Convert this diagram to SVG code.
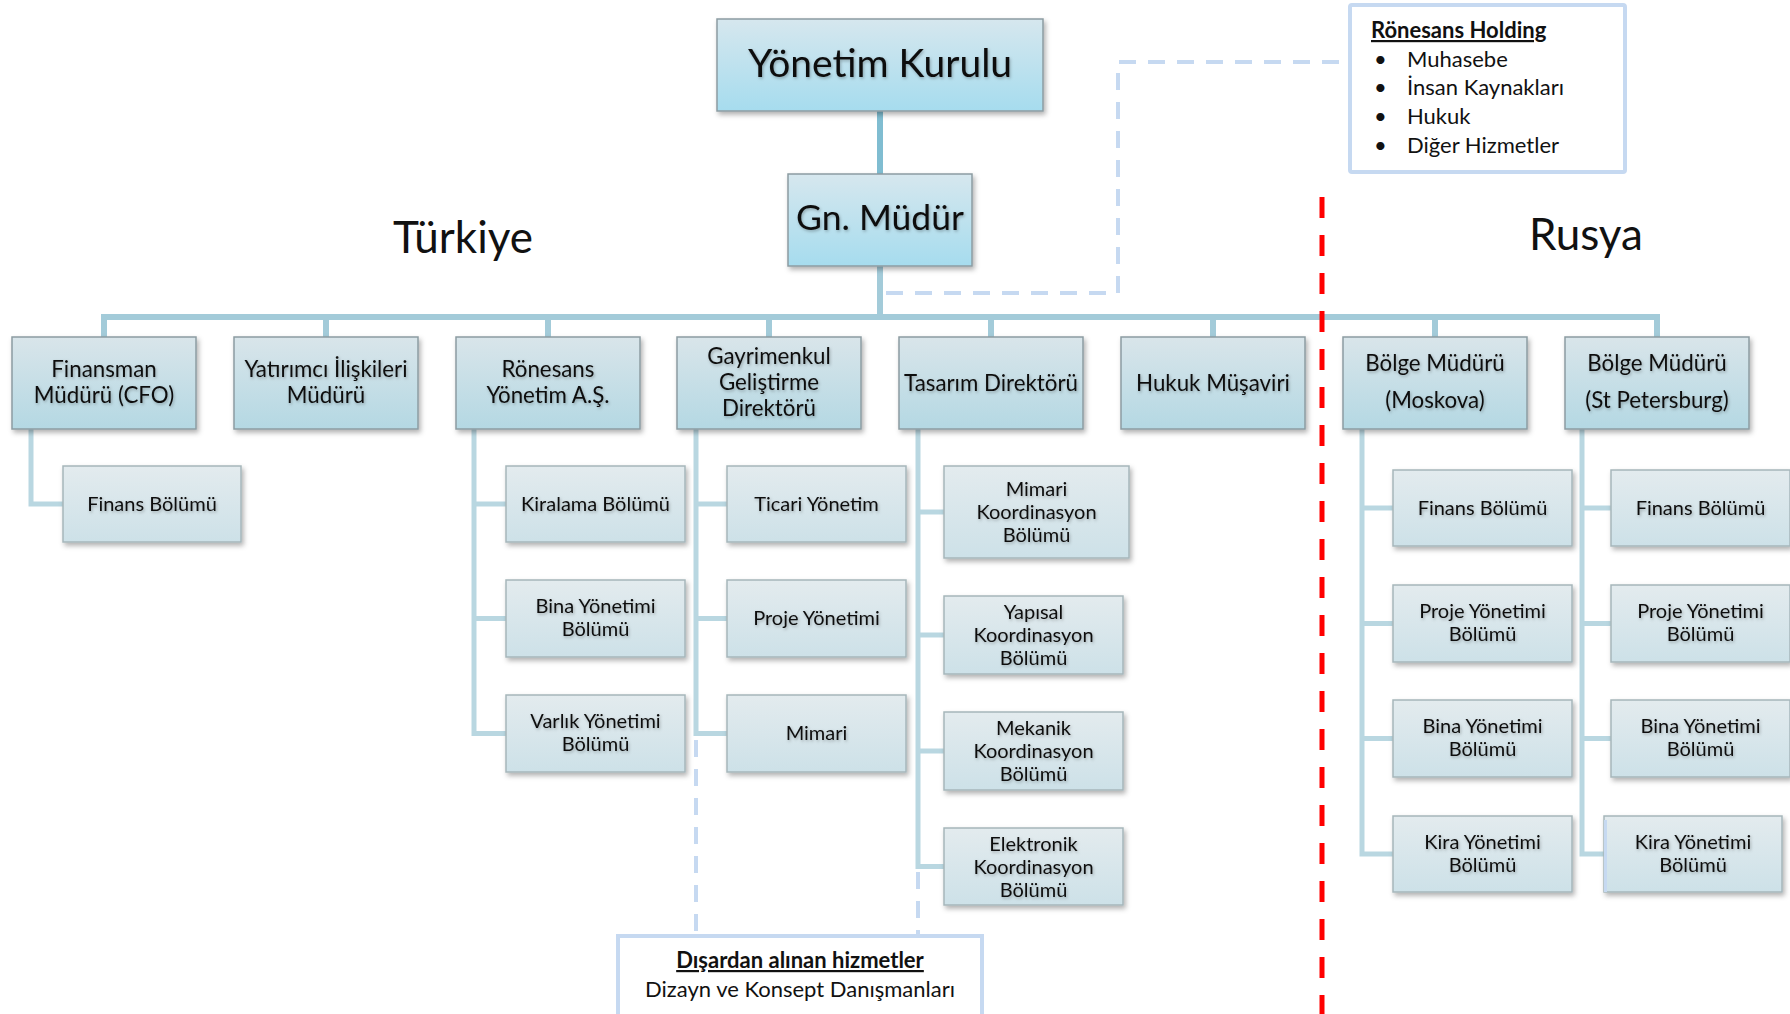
<svg xmlns="http://www.w3.org/2000/svg" width="1790" height="1014" viewBox="0 0 1790 1014">
<defs>
<linearGradient id="gTop" x1="0" y1="0" x2="0" y2="1"><stop offset="0" stop-color="#d6e7ee"/><stop offset="1" stop-color="#a6dcee"/></linearGradient>
<linearGradient id="gMid" x1="0" y1="0" x2="0" y2="1"><stop offset="0" stop-color="#d9e5ea"/><stop offset="1" stop-color="#b4d8e3"/></linearGradient>
<linearGradient id="gSub" x1="0" y1="0" x2="0" y2="1"><stop offset="0" stop-color="#e3ebee"/><stop offset="1" stop-color="#cde1e8"/></linearGradient>
<filter id="sh" x="-10%" y="-10%" width="125%" height="135%"><feDropShadow dx="2" dy="3" stdDeviation="2.5" flood-color="#000" flood-opacity="0.3"/></filter>
<filter id="tsh" x="-10%" y="-30%" width="120%" height="160%"><feDropShadow dx="1" dy="1.5" stdDeviation="1.5" flood-color="#000" flood-opacity="0.28"/></filter>
</defs>
<style>
text{font-family:Lato,"Open Sans",sans-serif;fill:#111;text-anchor:middle}
.top{fill:url(#gTop);stroke:#8c9ca2;stroke-width:1.5;filter:url(#sh)}
.mid{fill:url(#gMid);stroke:#8c9ca2;stroke-width:1.5;filter:url(#sh)}
.sub{fill:url(#gSub);stroke:#a6b6bb;stroke-width:1.5;filter:url(#sh)}
.t1{font-size:22.3px;filter:url(#tsh)}
.t2{font-size:20px;filter:url(#tsh)}
.big{font-size:39px;filter:url(#tsh)}
.reg{font-size:44px}
.bus{fill:none;stroke:#a3cbd9;stroke-width:6}
.main{fill:none;stroke:#80bdd1;stroke-width:6}
.ch{fill:none;stroke:#b9d7e1;stroke-width:5}
.dash{fill:none;stroke:#c6d9f1;stroke-width:4;stroke-dasharray:17 12}
.red{fill:none;stroke:#ff0000;stroke-width:5;stroke-dasharray:21 17}
.info{fill:#fff;stroke:#c6d9f1;stroke-width:4}
.it{font-size:22px;text-anchor:start}
.bt{font-size:22px}
</style>
<rect width="1790" height="1014" fill="#fff"/>

<g id="connectors">
<path class="main" d="M880 111V174"/>
<path class="bus" d="M880 266V317"/>
<path class="bus" d="M104 337V317H1657V337"/>
<path class="bus" d="M326 317V337M548 317V337M769 317V337M991 317V337M1213 317V337M1435 317V337"/>
<path class="ch" d="M31 429V504H63"/>
<path class="ch" d="M474 429V733.5H506M474 504H506M474 618.5H506"/>
<path class="ch" d="M696 429V733.5H727M696 504H727M696 618.5H727"/>
<path class="ch" d="M918 429V866.5H944M918 512H944M918 635H944M918 751H944"/>
<path class="ch" d="M1362 429V854H1393M1362 508H1393M1362 623.5H1393M1362 738.5H1393"/>
<path class="ch" d="M1582 429V854H1604M1582 508H1611M1582 623.5H1611M1582 738.5H1611"/>
<path class="dash" d="M886 293H1118V62H1342"/>
<path class="dash" d="M696 740V936M918 872V936"/>
<path class="red" d="M1322 197V1014"/>
</g>

<g id="yonetim-kurulu"><rect class="top" x="717" y="19" width="326" height="92"/><text class="big" x="880" y="77">Yönetim Kurulu</text></g>
<g id="gn-mudur"><rect class="top" x="788" y="174" width="184" height="92"/><text class="big" x="880" y="230" style="font-size:35.5px">Gn. Müdür</text></g>

<text id="turkiye" class="reg" x="463" y="253">Türkiye</text>
<text id="rusya" class="reg" x="1586" y="250">Rusya</text>

<g id="holding"><rect class="info" x="1350" y="5" width="275" height="167" rx="2"/>
<text class="it" x="1371" y="38" font-weight="bold" text-decoration="underline">Rönesans Holding</text>
<text class="it" x="1374" y="67">•</text><text class="it" x="1407" y="67">Muhasebe</text>
<text class="it" x="1374" y="95">•</text><text class="it" x="1407" y="95">İnsan Kaynakları</text>
<text class="it" x="1374" y="124">•</text><text class="it" x="1407" y="124">Hukuk</text>
<text class="it" x="1374" y="153">•</text><text class="it" x="1407" y="153">Diğer Hizmetler</text>
</g>

<g id="disardan"><rect class="info" x="618" y="936" width="364" height="82"/>
<text class="bt" x="800" y="968" font-weight="bold" text-decoration="underline">Dışardan alınan hizmetler</text>
<text class="bt" x="800" y="997">Dizayn ve Konsept Danışmanları</text>
</g>

<g id="finansman"><rect class="mid" x="12" y="337" width="184" height="92"/><text class="t1" x="104" y="377">Finansman</text><text class="t1" x="104" y="403">Müdürü (CFO)</text></g>
<g id="yatirimci"><rect class="mid" x="234" y="337" width="184" height="92"/><text class="t1" x="326" y="377">Yatırımcı İlişkileri</text><text class="t1" x="326" y="403">Müdürü</text></g>
<g id="ronesans-yonetim"><rect class="mid" x="456" y="337" width="184" height="92"/><text class="t1" x="548" y="377">Rönesans</text><text class="t1" x="548" y="403">Yönetim A.Ş.</text></g>
<g id="gayrimenkul"><rect class="mid" x="677" y="337" width="184" height="92"/><text class="t1" x="769" y="364">Gayrimenkul</text><text class="t1" x="769" y="390">Geliştirme</text><text class="t1" x="769" y="416">Direktörü</text></g>
<g id="tasarim"><rect class="mid" x="899" y="337" width="184" height="92"/><text class="t1" x="991" y="391">Tasarım Direktörü</text></g>
<g id="hukuk"><rect class="mid" x="1121" y="337" width="184" height="92"/><text class="t1" x="1213" y="391">Hukuk Müşaviri</text></g>
<g id="bolge-moskova"><rect class="mid" x="1343" y="337" width="184" height="92"/><text class="t1" x="1435" y="371">Bölge Müdürü</text><text class="t1" x="1435" y="408">(Moskova)</text></g>
<g id="bolge-stp"><rect class="mid" x="1565" y="337" width="184" height="92"/><text class="t1" x="1657" y="371">Bölge Müdürü</text><text class="t1" x="1657" y="408">(St Petersburg)</text></g>

<g id="finans-cfo"><rect class="sub" x="63" y="466" width="178" height="76"/><text class="t2" x="152" y="511">Finans Bölümü</text></g>

<g id="kiralama"><rect class="sub" x="506" y="466" width="179" height="76"/><text class="t2" x="595.5" y="511">Kiralama Bölümü</text></g>
<g id="bina-ry"><rect class="sub" x="506" y="580" width="179" height="77"/><text class="t2" x="595.5" y="613">Bina Yönetimi</text><text class="t2" x="595.5" y="636">Bölümü</text></g>
<g id="varlik"><rect class="sub" x="506" y="695" width="179" height="77"/><text class="t2" x="595.5" y="728">Varlık Yönetimi</text><text class="t2" x="595.5" y="751">Bölümü</text></g>

<g id="ticari"><rect class="sub" x="727" y="466" width="179" height="76"/><text class="t2" x="816.5" y="511">Ticari Yönetim</text></g>
<g id="proje-g"><rect class="sub" x="727" y="580" width="179" height="77"/><text class="t2" x="816.5" y="625">Proje Yönetimi</text></g>
<g id="mimari"><rect class="sub" x="727" y="695" width="179" height="77"/><text class="t2" x="816.5" y="740">Mimari</text></g>

<g id="mimari-koord"><rect class="sub" x="944" y="466" width="185" height="92"/><text class="t2" x="1036.5" y="496">Mimari</text><text class="t2" x="1036.5" y="519">Koordinasyon</text><text class="t2" x="1036.5" y="542">Bölümü</text></g>
<g id="yapisal-koord"><rect class="sub" x="944" y="596" width="179" height="78"/><text class="t2" x="1033.5" y="619">Yapısal</text><text class="t2" x="1033.5" y="642">Koordinasyon</text><text class="t2" x="1033.5" y="665">Bölümü</text></g>
<g id="mekanik-koord"><rect class="sub" x="944" y="712" width="179" height="78"/><text class="t2" x="1033.5" y="735">Mekanik</text><text class="t2" x="1033.5" y="758">Koordinasyon</text><text class="t2" x="1033.5" y="781">Bölümü</text></g>
<g id="elektronik-koord"><rect class="sub" x="944" y="828" width="179" height="77"/><text class="t2" x="1033.5" y="851">Elektronik</text><text class="t2" x="1033.5" y="874">Koordinasyon</text><text class="t2" x="1033.5" y="897">Bölümü</text></g>

<g id="finans-msk"><rect class="sub" x="1393" y="470" width="179" height="76"/><text class="t2" x="1482.5" y="515">Finans Bölümü</text></g>
<g id="proje-msk"><rect class="sub" x="1393" y="585" width="179" height="77"/><text class="t2" x="1482.5" y="618">Proje Yönetimi</text><text class="t2" x="1482.5" y="641">Bölümü</text></g>
<g id="bina-msk"><rect class="sub" x="1393" y="700" width="179" height="77"/><text class="t2" x="1482.5" y="733">Bina Yönetimi</text><text class="t2" x="1482.5" y="756">Bölümü</text></g>
<g id="kira-msk"><rect class="sub" x="1393" y="816" width="179" height="76"/><text class="t2" x="1482.5" y="849">Kira Yönetimi</text><text class="t2" x="1482.5" y="872">Bölümü</text></g>

<g id="finans-stp"><rect class="sub" x="1611" y="470" width="179" height="76"/><text class="t2" x="1700.5" y="515">Finans Bölümü</text></g>
<g id="proje-stp"><rect class="sub" x="1611" y="585" width="179" height="77"/><text class="t2" x="1700.5" y="618">Proje Yönetimi</text><text class="t2" x="1700.5" y="641">Bölümü</text></g>
<g id="bina-stp"><rect class="sub" x="1611" y="700" width="179" height="77"/><text class="t2" x="1700.5" y="733">Bina Yönetimi</text><text class="t2" x="1700.5" y="756">Bölümü</text></g>
<g id="kira-stp"><rect class="sub" x="1604" y="816" width="178" height="76"/><rect x="1604" y="820" width="3" height="72" fill="#c6d9f1"/><text class="t2" x="1693" y="849">Kira Yönetimi</text><text class="t2" x="1693" y="872">Bölümü</text></g>
</svg>
